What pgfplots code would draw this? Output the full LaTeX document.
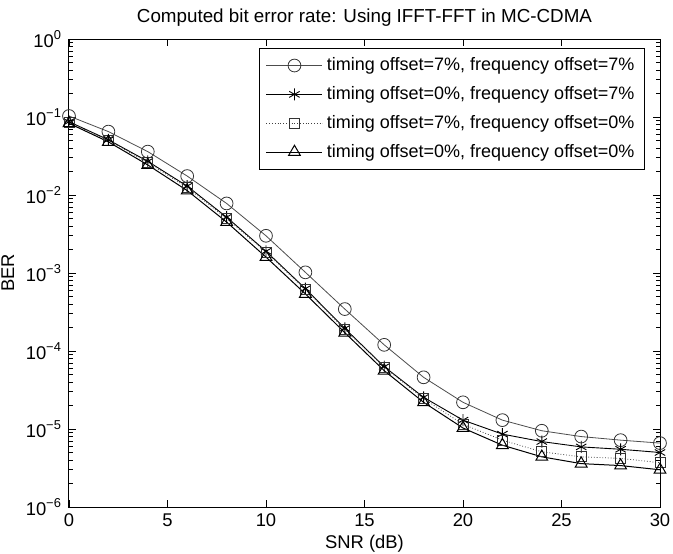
\documentclass[border=0pt]{standalone}
\usepackage{pgfplots}
\pgfplotsset{compat=1.18}
\usepackage{fontspec}
\setmainfont{Liberation Sans}
\begin{document}
\begin{tikzpicture}
\useasboundingbox (-34.5pt,-23pt) rectangle (302pt,253.5pt);
\begin{axis}[
  at={(0,0)}, anchor=south west,
  scale only axis,
  width=295.5pt, height=234pt,
  ymode=log,
  xmin=0, xmax=30, ymin=1e-6, ymax=1,
  xtick={0,5,10,15,20,25,30},
  ytick={1e-6,1e-5,1e-4,1e-3,1e-2,1e-1,1},
  yticklabels={10\textsuperscript{−6},10\textsuperscript{−5},10\textsuperscript{−4},10\textsuperscript{−3},10\textsuperscript{−2},10\textsuperscript{−1},10\textsuperscript{0}},
  /pgf/number format/assume math mode=true,
  tick label style={font=\fontsize{9.2}{11}\selectfont},
  label style={font=\fontsize{9.2}{11}\selectfont},
  title style={font=\fontsize{9.4}{11}\selectfont, yshift=-3pt},
  title={Computed bit error rate: Using IFFT-FFT in MC-CDMA},
  xlabel={SNR (dB)},
  ylabel={BER},
  xlabel style={yshift=3pt},
  ylabel style={yshift=-1pt},
  axis line style={black, line width=0.5pt},
  tick style={black, line width=0.4pt},
  major tick length=3.5pt,
  minor tick length=2pt,
  legend style={at={(1,1)}, anchor=north east, xshift=-7.5pt, yshift=-4.5pt,
    font=\fontsize{9}{10.5}\selectfont, draw=black, line width=0.5pt,
    row sep=2.4pt, inner xsep=3pt, inner ysep=2.5pt, cells={anchor=west}},
  legend image code/.code={\draw[mark repeat=2,mark phase=2,#1] plot coordinates {(0pt,0pt) (14pt,0pt) (28pt,0pt)};},
  legend cell align=left,
]
\addplot[black!70, line width=0.4pt, mark=o, mark size=3.2pt, mark options={solid, black!80}] coordinates {
(0,0.103) (2,0.065) (4,0.036) (6,0.0175) (8,0.0078) (10,0.0030) (12,1.02e-3) (14,3.45e-4)
(16,1.2e-4) (18,4.6e-5) (20,2.2e-5) (22,1.3e-5) (24,9.5e-6) (26,8e-6) (28,7.2e-6) (30,6.6e-6)};
\addlegendentry{timing offset=7\%, frequency offset=7\%}
\addplot[black, line width=0.45pt, mark=asterisk, mark size=3pt, mark options={solid}] coordinates {
(0,0.087) (2,0.051) (4,0.027) (6,0.013) (8,0.0052) (10,0.0019) (12,6.3e-4) (14,1.95e-4)
(16,6.3e-5) (18,2.55e-5) (20,1.3e-5) (22,8.6e-6) (24,6.9e-6) (26,5.9e-6) (28,5.5e-6) (30,5.0e-6)};
\addlegendentry{timing offset=0\%, frequency offset=7\%}
\addplot[black!75, line width=0.4pt, densely dotted, mark=square, mark size=2.5pt, mark options={solid, black!80}] coordinates {
(0,0.086) (2,0.050) (4,0.026) (6,0.0125) (8,0.0050) (10,0.00185) (12,6.1e-4) (14,1.9e-4)
(16,6.2e-5) (18,2.45e-5) (20,1.15e-5) (22,7.2e-6) (24,5.1e-6) (26,4.4e-6) (28,4.2e-6) (30,3.7e-6)};
\addlegendentry{timing offset=7\%, frequency offset=0\%}
\addplot[black, line width=0.5pt, mark=triangle, mark size=3.4pt, mark options={solid}] coordinates {
(0,0.083) (2,0.048) (4,0.0243) (6,0.0114) (8,0.0045) (10,0.0016) (12,5.4e-4) (14,1.72e-4)
(16,5.6e-5) (18,2.2e-5) (20,1.03e-5) (22,6.2e-6) (24,4.4e-6) (26,3.6e-6) (28,3.4e-6) (30,3.0e-6)};
\addlegendentry{timing offset=0\%, frequency offset=0\%}
\end{axis}
\end{tikzpicture}
\end{document}
